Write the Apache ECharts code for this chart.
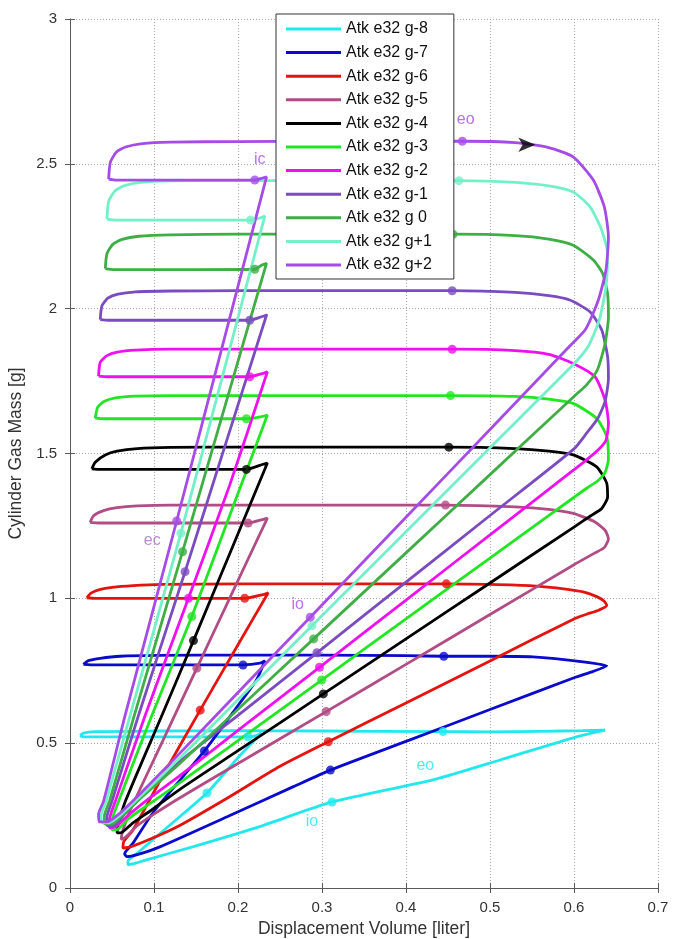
<!DOCTYPE html>
<html>
<head>
<meta charset="utf-8">
<script src="https://cdn.jsdelivr.net/npm/echarts@6/dist/echarts.min.js"></script>
<style>
html,body{margin:0;padding:0;background:#fff;}
#chart{width:684px;height:939px;}
</style>
</head>
<body>
<div id="chart"></div>
<script>
// ---------- data ----------
const seriesNames = ['Atk e32 g-8','Atk e32 g-7','Atk e32 g-6','Atk e32 g-5','Atk e32 g-4','Atk e32 g-3','Atk e32 g-2','Atk e32 g-1','Atk e32 g 0','Atk e32 g+1','Atk e32 g+2'];
const xTickLabels = ['0','0.1','0.2','0.3','0.4','0.5','0.6','0.7'];
const yTickLabels = ['0','0.5','1','1.5','2','2.5','3'];

const loop_gm8 = [[0.012,0.526],[0.016,0.535],[0.03,0.54],[0.1,0.542],[0.2,0.543],[0.3,0.542],[0.444,0.54],[0.5,0.539],[0.56,0.541],[0.61,0.543],[0.637,0.545],[0.603,0.522],[0.512,0.442],[0.432,0.373],[0.312,0.297],[0.226,0.212],[0.147,0.143],[0.091,0.097],[0.075,0.083],[0.069,0.08],[0.069,0.092],[0.08,0.12],[0.12,0.22],[0.163,0.328],[0.2,0.45],[0.228,0.535],[0.222,0.526],[0.212,0.522],[0.1,0.522],[0.03,0.522],[0.016,0.522],[0.012,0.526]];
const loop_gm7 = [[0.016,0.772],[0.022,0.785],[0.036,0.793],[0.06,0.8],[0.103,0.803],[0.2,0.804],[0.3,0.804],[0.4,0.802],[0.445,0.8],[0.5,0.8],[0.551,0.798],[0.611,0.781],[0.639,0.767],[0.623,0.748],[0.6,0.726],[0.5,0.616],[0.4,0.506],[0.31,0.407],[0.266,0.35],[0.187,0.246],[0.107,0.142],[0.08,0.115],[0.068,0.108],[0.065,0.118],[0.075,0.155],[0.1,0.265],[0.16,0.473],[0.2,0.63],[0.222,0.718],[0.232,0.785],[0.226,0.776],[0.206,0.77],[0.15,0.77],[0.08,0.77],[0.03,0.77],[0.016,0.772]];
const loop_gm6 = [[0.02,1.002],[0.025,1.018],[0.035,1.03],[0.05,1.038],[0.075,1.044],[0.11,1.048],[0.2,1.05],[0.3,1.05],[0.4,1.05],[0.448,1.05],[0.5,1.048],[0.551,1.043],[0.59,1.032],[0.611,1.022],[0.627,1.006],[0.636,0.99],[0.639,0.975],[0.63,0.96],[0.615,0.945],[0.6,0.929],[0.5,0.784],[0.4,0.639],[0.3075,0.505],[0.25,0.42],[0.187,0.31],[0.13,0.215],[0.095,0.168],[0.072,0.142],[0.063,0.138],[0.064,0.16],[0.075,0.2],[0.11,0.385],[0.155,0.614],[0.2,0.84],[0.236,1.019],[0.23,1.013],[0.208,1.0],[0.15,1.0],[0.08,1.0],[0.03,1.0],[0.02,1.002]];
const loop_gm5 = [[0.024,1.262],[0.028,1.285],[0.04,1.303],[0.056,1.313],[0.08,1.319],[0.12,1.322],[0.2,1.322],[0.3,1.322],[0.4,1.322],[0.447,1.322],[0.53,1.316],[0.57,1.307],[0.599,1.293],[0.624,1.265],[0.637,1.235],[0.641,1.205],[0.636,1.175],[0.625,1.157],[0.6,1.116],[0.5,0.944],[0.4,0.772],[0.305,0.609],[0.2,0.43],[0.13,0.31],[0.1,0.255],[0.08,0.215],[0.066,0.175],[0.061,0.168],[0.062,0.19],[0.072,0.27],[0.11,0.505],[0.151,0.759],[0.19,1.0],[0.235,1.277],[0.229,1.272],[0.212,1.26],[0.15,1.26],[0.08,1.26],[0.034,1.26],[0.024,1.262]];
const loop_gm4 = [[0.026,1.447],[0.03,1.47],[0.042,1.495],[0.056,1.508],[0.08,1.517],[0.12,1.521],[0.2,1.522],[0.3,1.522],[0.4,1.522],[0.451,1.522],[0.53,1.517],[0.57,1.508],[0.599,1.495],[0.627,1.454],[0.639,1.397],[0.64,1.35],[0.633,1.31],[0.62,1.285],[0.6,1.246],[0.5,1.053],[0.4,0.86],[0.3016,0.67],[0.2,0.474],[0.13,0.339],[0.095,0.265],[0.075,0.225],[0.062,0.192],[0.056,0.19],[0.057,0.215],[0.066,0.3],[0.11,0.6],[0.147,0.854],[0.19,1.153],[0.235,1.467],[0.229,1.462],[0.21,1.445],[0.15,1.445],[0.08,1.445],[0.036,1.445],[0.026,1.447]];
const loop_gm3 = [[0.03,1.622],[0.033,1.66],[0.041,1.68],[0.054,1.692],[0.078,1.698],[0.12,1.7],[0.2,1.7],[0.3,1.7],[0.4,1.7],[0.453,1.7],[0.53,1.697],[0.57,1.688],[0.599,1.673],[0.627,1.621],[0.639,1.558],[0.641,1.48],[0.637,1.435],[0.628,1.405],[0.615,1.38],[0.5,1.139],[0.4,0.929],[0.2996,0.718],[0.2,0.509],[0.13,0.362],[0.092,0.285],[0.07,0.24],[0.057,0.203],[0.05,0.2],[0.05,0.23],[0.058,0.3],[0.098,0.6],[0.145,0.937],[0.19,1.285],[0.235,1.633],[0.229,1.628],[0.21,1.62],[0.15,1.62],[0.08,1.62],[0.04,1.62],[0.03,1.622]];
const loop_gm2 = [[0.034,1.767],[0.036,1.815],[0.044,1.838],[0.056,1.85],[0.078,1.857],[0.12,1.86],[0.2,1.86],[0.3,1.86],[0.4,1.86],[0.455,1.86],[0.53,1.855],[0.57,1.842],[0.599,1.811],[0.625,1.765],[0.637,1.684],[0.641,1.604],[0.638,1.545],[0.628,1.51],[0.615,1.478],[0.6,1.444],[0.5,1.219],[0.4,0.994],[0.297,0.762],[0.2,0.544],[0.13,0.386],[0.09,0.3],[0.067,0.245],[0.054,0.21],[0.047,0.208],[0.047,0.235],[0.054,0.3],[0.09,0.6],[0.141,1.0],[0.19,1.39],[0.235,1.782],[0.229,1.776],[0.214,1.765],[0.15,1.765],[0.08,1.765],[0.044,1.765],[0.034,1.767]];
const loop_gm1 = [[0.036,1.962],[0.038,2.01],[0.045,2.036],[0.057,2.05],[0.078,2.058],[0.12,2.061],[0.2,2.062],[0.3,2.062],[0.4,2.062],[0.455,2.062],[0.53,2.056],[0.57,2.045],[0.595,2.03],[0.619,1.989],[0.633,1.926],[0.64,1.834],[0.641,1.76],[0.637,1.68],[0.628,1.62],[0.615,1.57],[0.6,1.516],[0.5,1.286],[0.4,1.056],[0.294,0.812],[0.2,0.596],[0.13,0.435],[0.09,0.33],[0.065,0.255],[0.052,0.215],[0.044,0.215],[0.044,0.245],[0.05,0.3],[0.082,0.6],[0.137,1.092],[0.18,1.485],[0.234,1.978],[0.228,1.972],[0.214,1.96],[0.15,1.96],[0.08,1.96],[0.046,1.96],[0.036,1.962]];
const loop_g0 = [[0.042,2.138],[0.044,2.19],[0.051,2.222],[0.062,2.239],[0.082,2.25],[0.12,2.255],[0.2,2.257],[0.3,2.257],[0.4,2.257],[0.456,2.257],[0.53,2.252],[0.57,2.24],[0.599,2.219],[0.623,2.168],[0.634,2.122],[0.64,2.052],[0.641,1.972],[0.637,1.88],[0.628,1.79],[0.615,1.737],[0.6,1.697],[0.5,1.427],[0.4,1.157],[0.29,0.86],[0.2,0.617],[0.13,0.428],[0.088,0.32],[0.062,0.25],[0.049,0.22],[0.041,0.222],[0.041,0.25],[0.047,0.3],[0.077,0.6],[0.134,1.161],[0.18,1.619],[0.234,2.157],[0.228,2.15],[0.22,2.136],[0.15,2.135],[0.08,2.135],[0.052,2.135],[0.042,2.138]];
const loop_gp1 = [[0.044,2.309],[0.046,2.37],[0.053,2.405],[0.064,2.424],[0.084,2.436],[0.12,2.441],[0.2,2.442],[0.3,2.442],[0.4,2.442],[0.463,2.442],[0.53,2.436],[0.57,2.424],[0.599,2.403],[0.619,2.352],[0.633,2.271],[0.64,2.19],[0.638,2.075],[0.63,1.96],[0.617,1.87],[0.6,1.81],[0.5,1.52],[0.4,1.23],[0.288,0.905],[0.2,0.65],[0.13,0.447],[0.085,0.32],[0.06,0.252],[0.046,0.225],[0.038,0.226],[0.037,0.25],[0.043,0.3],[0.072,0.6],[0.132,1.225],[0.18,1.75],[0.232,2.32],[0.226,2.313],[0.215,2.306],[0.15,2.306],[0.08,2.306],[0.054,2.306],[0.044,2.309]];
const loop_gp2 = [[0.046,2.447],[0.048,2.505],[0.055,2.54],[0.066,2.558],[0.086,2.57],[0.12,2.575],[0.2,2.577],[0.3,2.578],[0.4,2.578],[0.467,2.578],[0.53,2.573],[0.57,2.556],[0.599,2.524],[0.623,2.444],[0.636,2.352],[0.641,2.248],[0.638,2.133],[0.629,2.03],[0.614,1.93],[0.595,1.871],[0.5,1.583],[0.4,1.28],[0.286,0.935],[0.2,0.675],[0.13,0.463],[0.085,0.33],[0.058,0.255],[0.044,0.228],[0.035,0.228],[0.034,0.255],[0.04,0.3],[0.066,0.6],[0.127,1.267],[0.18,1.855],[0.234,2.455],[0.229,2.451],[0.22,2.444],[0.15,2.444],[0.08,2.444],[0.055,2.444],[0.046,2.447]];

// event markers: ic, eo, io, ec
const marks_gm8 = [[0.212,0.522],[0.444,0.54],[0.312,0.297],[0.163,0.328]];
const marks_gm7 = [[0.206,0.77],[0.445,0.8],[0.31,0.407],[0.16,0.473]];
const marks_gm6 = [[0.208,1.0],[0.448,1.05],[0.3075,0.505],[0.155,0.614]];
const marks_gm5 = [[0.212,1.26],[0.447,1.322],[0.305,0.609],[0.151,0.759]];
const marks_gm4 = [[0.21,1.445],[0.451,1.522],[0.3016,0.67],[0.147,0.854]];
const marks_gm3 = [[0.21,1.62],[0.453,1.7],[0.2996,0.718],[0.145,0.937]];
const marks_gm2 = [[0.214,1.765],[0.455,1.86],[0.297,0.762],[0.141,1.0]];
const marks_gm1 = [[0.214,1.96],[0.455,2.062],[0.294,0.812],[0.137,1.092]];
const marks_g0  = [[0.22,2.136],[0.456,2.257],[0.29,0.86],[0.134,1.161]];
const marks_gp1 = [[0.215,2.306],[0.463,2.442],[0.288,0.905],[0.132,1.225]];
const marks_gp2 = [[0.22,2.444],[0.467,2.578],[0.286,0.935],[0.127,1.267]];

const arrowPoint = [0.554,2.566];
const annotTexts = ['ic','eo','ec','io','eo','io'];
const annotPoints = [[0.226,2.513],[0.471,2.651],[0.098,1.201],[0.271,0.98],[0.423,0.421],[0.288,0.228]];

// ---------- styling ----------
const loops = [loop_gm8,loop_gm7,loop_gm6,loop_gm5,loop_gm4,loop_gm3,loop_gm2,loop_gm1,loop_g0,loop_gp1,loop_gp2];
const marks = [marks_gm8,marks_gm7,marks_gm6,marks_gm5,marks_gm4,marks_gm3,marks_gm2,marks_gm1,marks_g0,marks_gp1,marks_gp2];
const colors = ['#22E8EE','#0A0ACC','#E3140F','#B24C84','#000000','#22E622','#EE11EE','#7A4CC0','#3FAE45','#74F0C8','#A64CE6'];
const annotColors = ['#A64CE6','#A64CE6','#A86CC6','#A64CE6','#22E8EE','#22E8EE'];
const FONT = '"Liberation Sans", Arial, Helvetica, sans-serif';

const series = [];
loops.forEach((loop, i) => {
  series.push({
    type: 'line', name: seriesNames[i], data: loop, showSymbol: false, smooth: 0.2,
    lineStyle: {width: 2.8, color: colors[i]}, itemStyle: {color: colors[i]},
    animation: false, silent: true, z: 2
  });
  series.push({
    type: 'scatter', name: seriesNames[i], data: marks[i], symbol: 'circle', symbolSize: 9,
    itemStyle: {color: colors[i]}, animation: false, silent: true, z: 2
  });
});
series.push({
  type: 'scatter', name: 'arrow', data: [arrowPoint], symbol: 'arrow', symbolSize: [11, 17],
  symbolRotate: -90, itemStyle: {color: '#000'}, animation: false, silent: true, z: 3
});
series.push({
  type: 'scatter', name: 'annot', symbolSize: 2, itemStyle: {color: 'rgba(255,255,255,0)'},
  animation: false, silent: true, z: 3,
  data: annotPoints.map((p, i) => ({value: p, label: {show: true, formatter: annotTexts[i], color: annotColors[i]}})),
  label: {show: true, position: 'inside', fontSize: 16, fontFamily: FONT}
});

const axisLineStyle = {color: '#5a5a5a', width: 1};
const gridLine = {show: true, lineStyle: {type: [1, 2], color: '#a8a8a8', width: 1}};

const option = {
  backgroundColor: '#fff',
  animation: false,
  grid: {left: 70, right: 26, top: 19, bottom: 51, containLabel: false, outerBoundsMode: 'none'},
  legend: {
    data: seriesNames, orient: 'vertical', left: 276, top: 14, icon: 'rect',
    itemWidth: 55, itemHeight: 3, itemGap: 3.6, padding: [5, 22, 4, 10],
    backgroundColor: '#fff', borderColor: '#333', borderWidth: 1, selectedMode: false,
    textStyle: {fontSize: 16, lineHeight: 20, color: '#111', fontFamily: FONT}, z: 10
  },
  xAxis: [{
    type: 'value', min: 0, max: 0.7, interval: 0.1, position: 'bottom',
    axisLine: {show: true, lineStyle: axisLineStyle},
    axisTick: {show: true, inside: true, length: 5, lineStyle: axisLineStyle},
    axisLabel: {fontSize: 15, color: '#333', margin: 12, fontFamily: FONT,
      formatter: v => xTickLabels[Math.round(v * 10)]},
    splitLine: gridLine,
    name: 'Displacement Volume [liter]', nameLocation: 'middle', nameGap: 31,
    nameTextStyle: {fontSize: 17.5, color: '#333', fontFamily: FONT}
  }, {
    type: 'value', min: 0, max: 0.7, interval: 0.1, position: 'top',
    axisLine: {show: true, lineStyle: axisLineStyle},
    axisTick: {show: true, inside: true, length: 5, lineStyle: axisLineStyle},
    axisLabel: {show: false}, splitLine: {show: false}
  }],
  yAxis: [{
    type: 'value', min: 0, max: 3, interval: 0.5, position: 'left',
    axisLine: {show: true, lineStyle: axisLineStyle},
    axisTick: {show: true, inside: true, length: 5, lineStyle: axisLineStyle},
    axisLabel: {fontSize: 15, color: '#333', margin: 13, fontFamily: FONT,
      formatter: v => yTickLabels[Math.round(v * 2)]},
    splitLine: gridLine,
    name: 'Cylinder Gas Mass [g]', nameLocation: 'middle', nameGap: 37,
    nameTextStyle: {fontSize: 17.5, color: '#333', fontFamily: FONT}
  }, {
    type: 'value', min: 0, max: 3, interval: 0.5, position: 'right',
    axisLine: {show: true, lineStyle: axisLineStyle},
    axisTick: {show: true, inside: true, length: 5, lineStyle: axisLineStyle},
    axisLabel: {show: false}, splitLine: {show: false}
  }],
  series: series
};

const chart = echarts.init(document.getElementById('chart'), null, {renderer: 'canvas'});
chart.setOption(option);
</script>
</body>
</html>
